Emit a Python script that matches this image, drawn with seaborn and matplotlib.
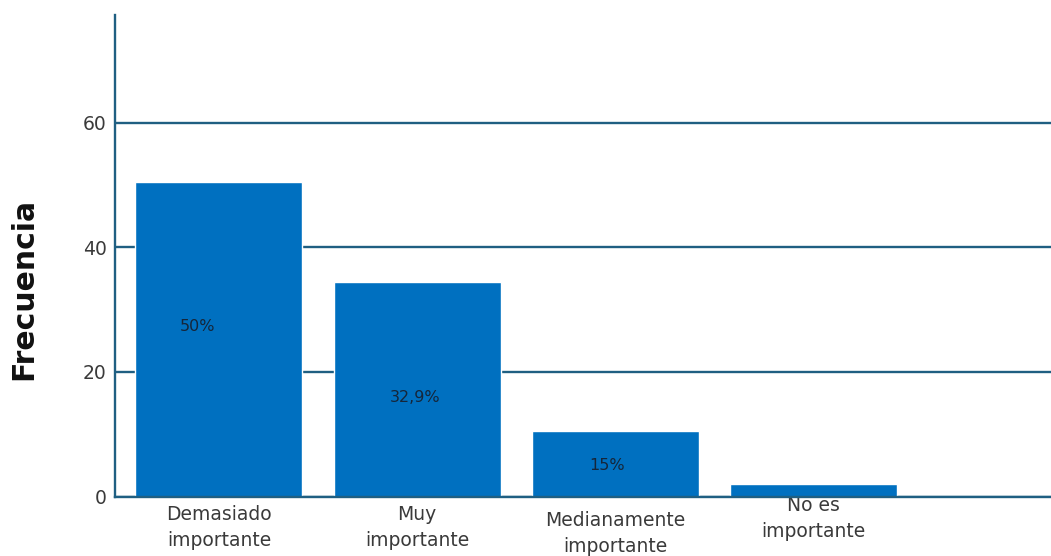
import matplotlib
matplotlib.use("Agg")
import matplotlib.pyplot as plt
import matplotlib.transforms as mtransforms
import seaborn as sns
import pandas as pd

# Frequency of each importance rating
categorias = ["Demasiado\nimportante", "Muy\nimportante",
              "Medianamente\nimportante", "No es\nimportante"]
frecuencias = [50.5, 34.5, 10.5, 2.0]
porcentajes = ["50%", "32,9%", "15%"]
y_ticks = [0, 20, 40, 60]

BAR_COLOR = "#0070C0"
LINE_COLOR = "#1F5F82"
TEXT_COLOR = "#3a3a3a"

sns.set_theme(style="white")
plt.rcParams["font.family"] = ["DejaVu Sans"]

df = pd.DataFrame({"categoria": categorias, "frecuencia": frecuencias})

fig = plt.figure(figsize=(10.51, 5.56), dpi=100)
ax = fig.add_axes([0.1094, 0.107, 0.8906, 0.866])

sns.barplot(data=df, x="categoria", y="frecuencia", color=BAR_COLOR,
            saturation=1, width=0.843, ax=ax, zorder=3)

ax.set_xlim(-0.525, 4.2)
ax.set_ylim(0, 77.3)
ax.set_yticks(y_ticks)
ax.yaxis.grid(True, color=LINE_COLOR, linewidth=1.7, zorder=1)
ax.xaxis.grid(False)

for side in ["top", "right"]:
    ax.spines[side].set_visible(False)
for side in ["left", "bottom"]:
    ax.spines[side].set_color(LINE_COLOR)
    ax.spines[side].set_linewidth(1.7)
    ax.spines[side].set_zorder(4)

ax.tick_params(axis="y", length=0, pad=6, labelsize=13.5, labelcolor=TEXT_COLOR)
ax.tick_params(axis="x", length=0, labelbottom=False)
ax.set_xlabel("")
ax.set_ylabel("Frecuencia", fontsize=21.5, fontweight="bold", color="#111111")
ax.yaxis.set_label_coords(-0.082, 0.431)

# Category names under the axis, each block at its own height (pixels below axis)
trans = mtransforms.blended_transform_factory(ax.transData, ax.transAxes)
px = 1.0 / (0.866 * 556)
label_drop = [31, 31, 37, 22]
for i, name in enumerate(categorias):
    ax.text(i, -label_drop[i] * px, name, transform=trans, ha="center",
            va="center", fontsize=13.5, color=TEXT_COLOR, linespacing=1.45)

# Percentage labels inside the bars
label_dx = [-0.11, -0.01, -0.04]
label_frac = [0.54, 0.46, 0.47]
for i, txt in enumerate(porcentajes):
    ax.text(i + label_dx[i], frecuencias[i] * label_frac[i], txt,
            ha="center", va="center", fontsize=11.5, color="#15263a", zorder=5)

fig.savefig("out.png", dpi=100)
